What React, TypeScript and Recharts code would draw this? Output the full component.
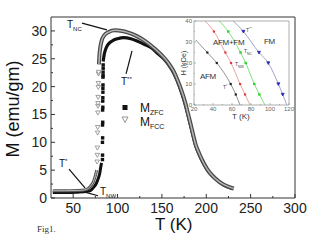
import React from 'react';
import { ComposedChart, Line, Scatter, XAxis, YAxis, ReferenceLine } from 'recharts';

const FONT = 'Arial, "Liberation Sans", Helvetica, sans-serif';

// main panel, T (K) against M (emu/gm)
const X_TICKS = [50, 75, 100, 125, 150, 175, 200, 225, 250, 275, 300];
const Y_TICKS = [0, 2.5, 5, 7.5, 10, 12.5, 15, 17.5, 20, 22.5, 25, 27.5, 30];

const ZFC_LOW = [
  [27, 1.0], [35, 1.0], [45, 1.0], [55, 1.05], [62, 1.1], [66, 1.2], [70, 1.4],
  [73, 1.9], [76, 2.6], [78, 3.4], [80, 4.5], [81, 5.5], [82, 6.3],
];
const ZFC_JUMP = [
  [83.0, 6.9], [83.1, 7.7], [83.0, 10.0], [83.2, 10.8], [83.1, 13.1], [83.3, 13.6],
  [83.2, 15.8], [83.4, 16.3], [83.3, 17.4], [83.4, 18.0], [83.5, 19.0], [83.5, 19.7],
  [83.6, 20.3], [83.6, 21.7], [83.7, 22.0], [83.7, 22.6], [83.8, 23.3], [83.8, 23.9],
];
const ZFC_HIGH = [
  [83.8, 24.5], [85, 25.8], [87, 26.9], [90, 27.7], [95, 28.3], [100, 28.6], [107, 28.8],
  [115, 28.6], [122, 28.2], [130, 27.6], [138, 27.0], [145, 26.0], [152, 25.0], [158, 23.8],
  [164, 22.2], [170, 19.9], [175, 17.5], [180, 14.5], [184, 11.9], [188, 9.4], [192, 7.8],
  [197, 6.2], [203, 4.6], [210, 3.5], [218, 2.5], [226, 1.9], [230, 1.65],
];

const FCC_LOW = [
  [27, 1.3], [40, 1.3], [55, 1.35], [63, 1.45], [67, 1.7], [70, 2.2], [73, 3.0],
  [75, 4.0], [76.5, 5.0],
];
const FCC_JUMP = [
  [77.0, 6.5], [77.2, 7.7], [77.3, 9.0], [77.5, 11.7], [77.6, 12.7], [77.8, 15.3],
  [77.9, 16.5], [78.0, 17.0], [78.1, 18.1], [78.3, 19.9], [78.4, 20.6], [78.6, 22.3],
  [78.7, 22.6],
];
const FCC_HIGH = [
  [79, 24.0], [79.5, 25.5], [80.5, 27.0], [82, 28.2], [85, 29.2], [90, 29.8], [97, 30.1],
  [105, 30.0], [112, 29.7], [120, 29.2], [130, 28.3], [142, 26.8], [150, 25.6], [157, 24.3],
  [163, 22.8], [168, 21.0], [172, 19.3], [176, 17.3], [179, 15.4], [182, 13.5], [185, 11.5],
  [188, 9.6], [192, 8.0], [196, 6.6], [201, 5.2], [207, 4.0], [214, 3.0], [221, 2.3],
  [227, 1.9], [231, 1.7],
];

// inset, T (K) against H (kOe)
const IN_X_TICKS = [20, 30, 40, 50, 60, 70, 80, 90, 100, 110, 120];
const IN_Y_TICKS = [0, 5, 10, 15, 20, 25, 30, 35, 40];
const AFM_LINE = [[21.8, 31], [34, 25], [44, 20], [58.6, 10], [64, 5], [68.4, 0]];
const RED_LINE = [[31.6, 40], [41, 35], [53, 25], [59, 20], [68.5, 10], [73.7, 5], [79, 0]];
const GREEN_LINE = [[46.7, 40], [56, 35], [69, 25], [74.4, 20], [83.5, 10], [88.8, 5], [94.7, 0]];
const BLUE_LINE = [[61.4, 40], [72, 35], [88.4, 25], [98.2, 20], [108.8, 10], [113.4, 5], [117.6, 0]];

const pts = (a: number[][]) => a.map(([t, m]) => ({ t, m }));
const inner = (a: number[][]) => pts(a.slice(1, -1));

const XTick = (p: any) => {
  const v = p.payload.value;
  const major = v % 50 === 0;
  return (
    <g>
      <line x1={p.x} x2={p.x} y1={p.y} y2={p.y - (major ? 4 : 2)} stroke="#333" />
      {major && (
        <text x={p.x} y={p.y + 15} textAnchor="middle" fontSize={14} fill="#222" fontFamily={FONT}>
          {v}
        </text>
      )}
    </g>
  );
};

const YTick = (p: any) => {
  const v = p.payload.value;
  const major = v % 5 === 0;
  return (
    <g>
      <line x1={p.x} x2={p.x + (major ? 4 : 2)} y1={p.y} y2={p.y} stroke="#333" />
      {major && (
        <text x={p.x - 4} y={p.y + 5} textAnchor="end" fontSize={14} fill="#222" fontFamily={FONT}>
          {v}
        </text>
      )}
    </g>
  );
};

const InXTick = (p: any) => {
  const v = p.payload.value;
  const major = v % 20 === 0;
  return (
    <g>
      <line x1={p.x} x2={p.x} y1={p.y} y2={p.y - (major ? 2 : 1)} stroke="#888" strokeWidth={0.6} />
      {major && (
        <text x={p.x} y={p.y + 6} textAnchor="middle" fontSize={6} fill="#666" fontFamily={FONT}>
          {v}
        </text>
      )}
    </g>
  );
};

const InYTick = (p: any) => {
  const v = p.payload.value;
  const major = v % 10 === 0;
  return (
    <g>
      <line x1={p.x} x2={p.x + (major ? 2 : 1)} y1={p.y} y2={p.y} stroke="#888" strokeWidth={0.6} />
      {major && (
        <text x={p.x - 2} y={p.y + 2} textAnchor="end" fontSize={6} fill="#666" fontFamily={FONT}>
          {v}
        </text>
      )}
    </g>
  );
};

const Square = (s: number, fill: string) => (p: any) =>
  <rect x={p.cx - s / 2} y={p.cy - s / 2} width={s} height={s} fill={fill} />;

const DownTri = (s: number, stroke: string, fill: string) => (p: any) => (
  <path
    d={`M${p.cx - s / 2},${p.cy - s / 2.5} L${p.cx + s / 2},${p.cy - s / 2.5} L${p.cx},${p.cy + s / 2} Z`}
    stroke={stroke}
    strokeWidth={0.8}
    fill={fill}
  />
);

const lbl = (left: number, top: number, size: number, extra?: React.CSSProperties): React.CSSProperties => ({
  position: 'absolute',
  left,
  top,
  fontSize: size,
  lineHeight: 1,
  color: '#111',
  whiteSpace: 'nowrap',
  ...extra,
});

// sub/superscript that does not grow the line box
const Sub = ({ s, children }: { s: number; children: React.ReactNode }) => (
  <span style={{ fontSize: s, position: 'relative', top: s * 0.45, lineHeight: 0 }}>{children}</span>
);
const Sup = ({ s, children }: { s: number; children: React.ReactNode }) => (
  <span style={{ fontSize: s, position: 'relative', top: -s * 0.7, lineHeight: 0 }}>{children}</span>
);

export default function App() {
  return (
    <div style={{ position: 'absolute', left: 0, top: 0, width: 320, height: 240, background: '#fff', fontFamily: FONT }}>
      <ComposedChart width={320} height={240} margin={{ top: 17, right: 25, bottom: 12, left: 21 }}>
        <XAxis
          type="number"
          dataKey="t"
          domain={[25, 300]}
          ticks={X_TICKS}
          interval={0}
          tickSize={0}
          tickMargin={0}
          tickLine={false}
          tick={XTick}
          height={30}
          axisLine={{ stroke: '#333' }}
          allowDataOverflow
        />
        <YAxis
          type="number"
          dataKey="m"
          domain={[0, 32.5]}
          ticks={Y_TICKS}
          interval={0}
          tickSize={0}
          tickMargin={0}
          tickLine={false}
          tick={YTick}
          width={30}
          axisLine={{ stroke: '#333' }}
          allowDataOverflow
        />
        <ReferenceLine y={32.5} stroke="#777" strokeWidth={1.3} />
        <ReferenceLine x={300} stroke="#555" strokeWidth={1.2} />

        <Line data={pts(ZFC_LOW)} dataKey="m" type="monotone" stroke="#111" strokeWidth={3} dot={false} isAnimationActive={false} />
        <Line data={pts(ZFC_HIGH)} dataKey="m" type="monotone" stroke="#111" strokeWidth={3.2} dot={false} isAnimationActive={false} />
        <Scatter data={pts(ZFC_JUMP)} dataKey="m" shape={Square(3.4, '#111')} isAnimationActive={false} />

        <Line data={pts(FCC_LOW)} dataKey="m" type="monotone" stroke="#555" strokeWidth={3} dot={false} isAnimationActive={false} />
        <Line data={pts(FCC_LOW)} dataKey="m" type="monotone" stroke="#bbb" strokeWidth={1} dot={false} isAnimationActive={false} />
        <Line data={pts(FCC_HIGH)} dataKey="m" type="monotone" stroke="#4a4a4a" strokeWidth={4} dot={false} isAnimationActive={false} />
        <Line data={pts(FCC_HIGH)} dataKey="m" type="monotone" stroke="#b5b5b5" strokeWidth={1.5} dot={false} isAnimationActive={false} />
        <Scatter data={pts(FCC_JUMP)} dataKey="m" shape={DownTri(4.5, '#888', '#fff')} isAnimationActive={false} />

        <ReferenceLine segment={[{ x: 60, y: 31.4 }, { x: 88, y: 30.2 }]} stroke="#111" strokeWidth={1.2} />
        <ReferenceLine segment={[{ x: 116.3, y: 26.4 }, { x: 109.6, y: 22.3 }]} stroke="#111" strokeWidth={1.2} />
        <ReferenceLine segment={[{ x: 45.3, y: 5.2 }, { x: 63.3, y: 1.8 }]} stroke="#111" strokeWidth={1.2} />
        <ReferenceLine segment={[{ x: 62.2, y: 1.1 }, { x: 78, y: 0.4 }]} stroke="#111" strokeWidth={1.2} />
      </ComposedChart>

      {/* inset phase diagram */}
      <div style={{ position: 'absolute', left: 170, top: 10 }}>
        <ComposedChart width={130} height={118} margin={{ top: 11, right: 11, bottom: 11, left: 8 }}>
          <XAxis
            type="number"
            dataKey="t"
            domain={[20, 120]}
            ticks={IN_X_TICKS}
            interval={0}
            tickSize={0}
            tickMargin={0}
            tickLine={false}
            tick={InXTick}
            height={12}
            axisLine={{ stroke: '#999', strokeWidth: 0.8 }}
          />
          <YAxis
            type="number"
            dataKey="m"
            domain={[0, 40]}
            ticks={IN_Y_TICKS}
            interval={0}
            tickSize={0}
            tickMargin={0}
            tickLine={false}
            tick={InYTick}
            width={16}
            axisLine={{ stroke: '#999', strokeWidth: 0.8 }}
          />
          <ReferenceLine y={40} stroke="#999" strokeWidth={0.8} />
          <ReferenceLine x={120} stroke="#999" strokeWidth={0.8} />

          <Line data={pts(AFM_LINE)} dataKey="m" type="monotone" stroke="#666" strokeWidth={0.7} dot={false} isAnimationActive={false} />
          <Line data={pts(RED_LINE)} dataKey="m" type="monotone" stroke="#d98080" strokeWidth={0.7} dot={false} isAnimationActive={false} />
          <Line data={pts(GREEN_LINE)} dataKey="m" type="monotone" stroke="#5fd85f" strokeWidth={0.8} dot={false} isAnimationActive={false} />
          <Line data={pts(BLUE_LINE)} dataKey="m" type="monotone" stroke="#7a7ab8" strokeWidth={0.7} dot={false} isAnimationActive={false} />

          <Scatter data={inner(AFM_LINE)} dataKey="m" shape={Square(2.2, '#222')} isAnimationActive={false} />
          <Scatter data={inner(RED_LINE)} dataKey="m" shape={Square(2.2, '#e03a3a')} isAnimationActive={false} />
          <Scatter data={inner(GREEN_LINE)} dataKey="m" shape={Square(2.4, '#2bd42b')} isAnimationActive={false} />
          <Scatter data={inner(BLUE_LINE)} dataKey="m" shape={DownTri(3, '#2a2ab0', '#2a2ab0')} isAnimationActive={false} />
        </ComposedChart>
      </div>

      {/* inset texts */}
      <div style={lbl(200, 73, 8, { color: '#333', letterSpacing: -0.3 })}>AFM</div>
      <div style={lbl(213, 39, 8, { color: '#333', letterSpacing: -0.3 })}>AFM+FM</div>
      <div style={lbl(264, 38, 8, { color: '#333', letterSpacing: -0.3 })}>FM</div>
      <div style={lbl(223, 85, 5, { color: '#444' })}>T<Sup s={3.5}>*</Sup></div>
      <div style={lbl(235, 62, 5, { color: '#444' })}>T<Sub s={3.5}>NW</Sub></div>
      <div style={lbl(244, 49, 5, { color: '#444' })}>T<Sub s={3.5}>NC</Sub></div>
      <div style={lbl(246, 28, 5, { color: '#444' })}>T<Sup s={3.5}>**</Sup></div>
      <div style={lbl(232, 113, 8, { color: '#333' })}>T (K)</div>
      <div
        style={lbl(158, 60, 7, { color: '#333', width: 50, textAlign: 'center', transform: 'rotate(-90deg)', transformOrigin: '25px 3px' })}
      >
        H (kOe)
      </div>

      {/* main annotations */}
      <div style={lbl(67, 20, 10)}>T<Sub s={6}>NC</Sub></div>
      <div style={lbl(121, 77, 10)}>T<Sup s={6}>**</Sup></div>
      <div style={lbl(59, 159, 10)}>T<Sup s={6}>*</Sup></div>
      <div style={lbl(100, 187, 10)}>T<Sub s={6}>NW</Sub></div>

      {/* legend */}
      <svg style={{ position: 'absolute', left: 120, top: 103 }} width={10} height={24}>
        <rect x={2.5} y={2} width={5} height={5} fill="#111" />
        <path d="M2,14 L8,14 L5,19.5 Z" stroke="#888" strokeWidth={0.9} fill="#fff" />
      </svg>
      <div style={lbl(140, 102, 12)}>M<Sub s={7}>ZFC</Sub></div>
      <div style={lbl(140, 116, 12)}>M<Sub s={7}>FCC</Sub></div>

      {/* axis titles */}
      <div style={lbl(155, 216, 17, { color: '#111' })}>T (K)</div>
      <div
        style={lbl(-42, 100, 18, { color: '#111', width: 110, textAlign: 'center', transform: 'rotate(-90deg)', transformOrigin: '55px 9px' })}
      >
        M (emu/gm)
      </div>

      <div style={lbl(37, 225, 9, { fontFamily: '"Liberation Serif", "DejaVu Serif", serif', color: '#333' })}>Fig1.</div>
    </div>
  );
}
